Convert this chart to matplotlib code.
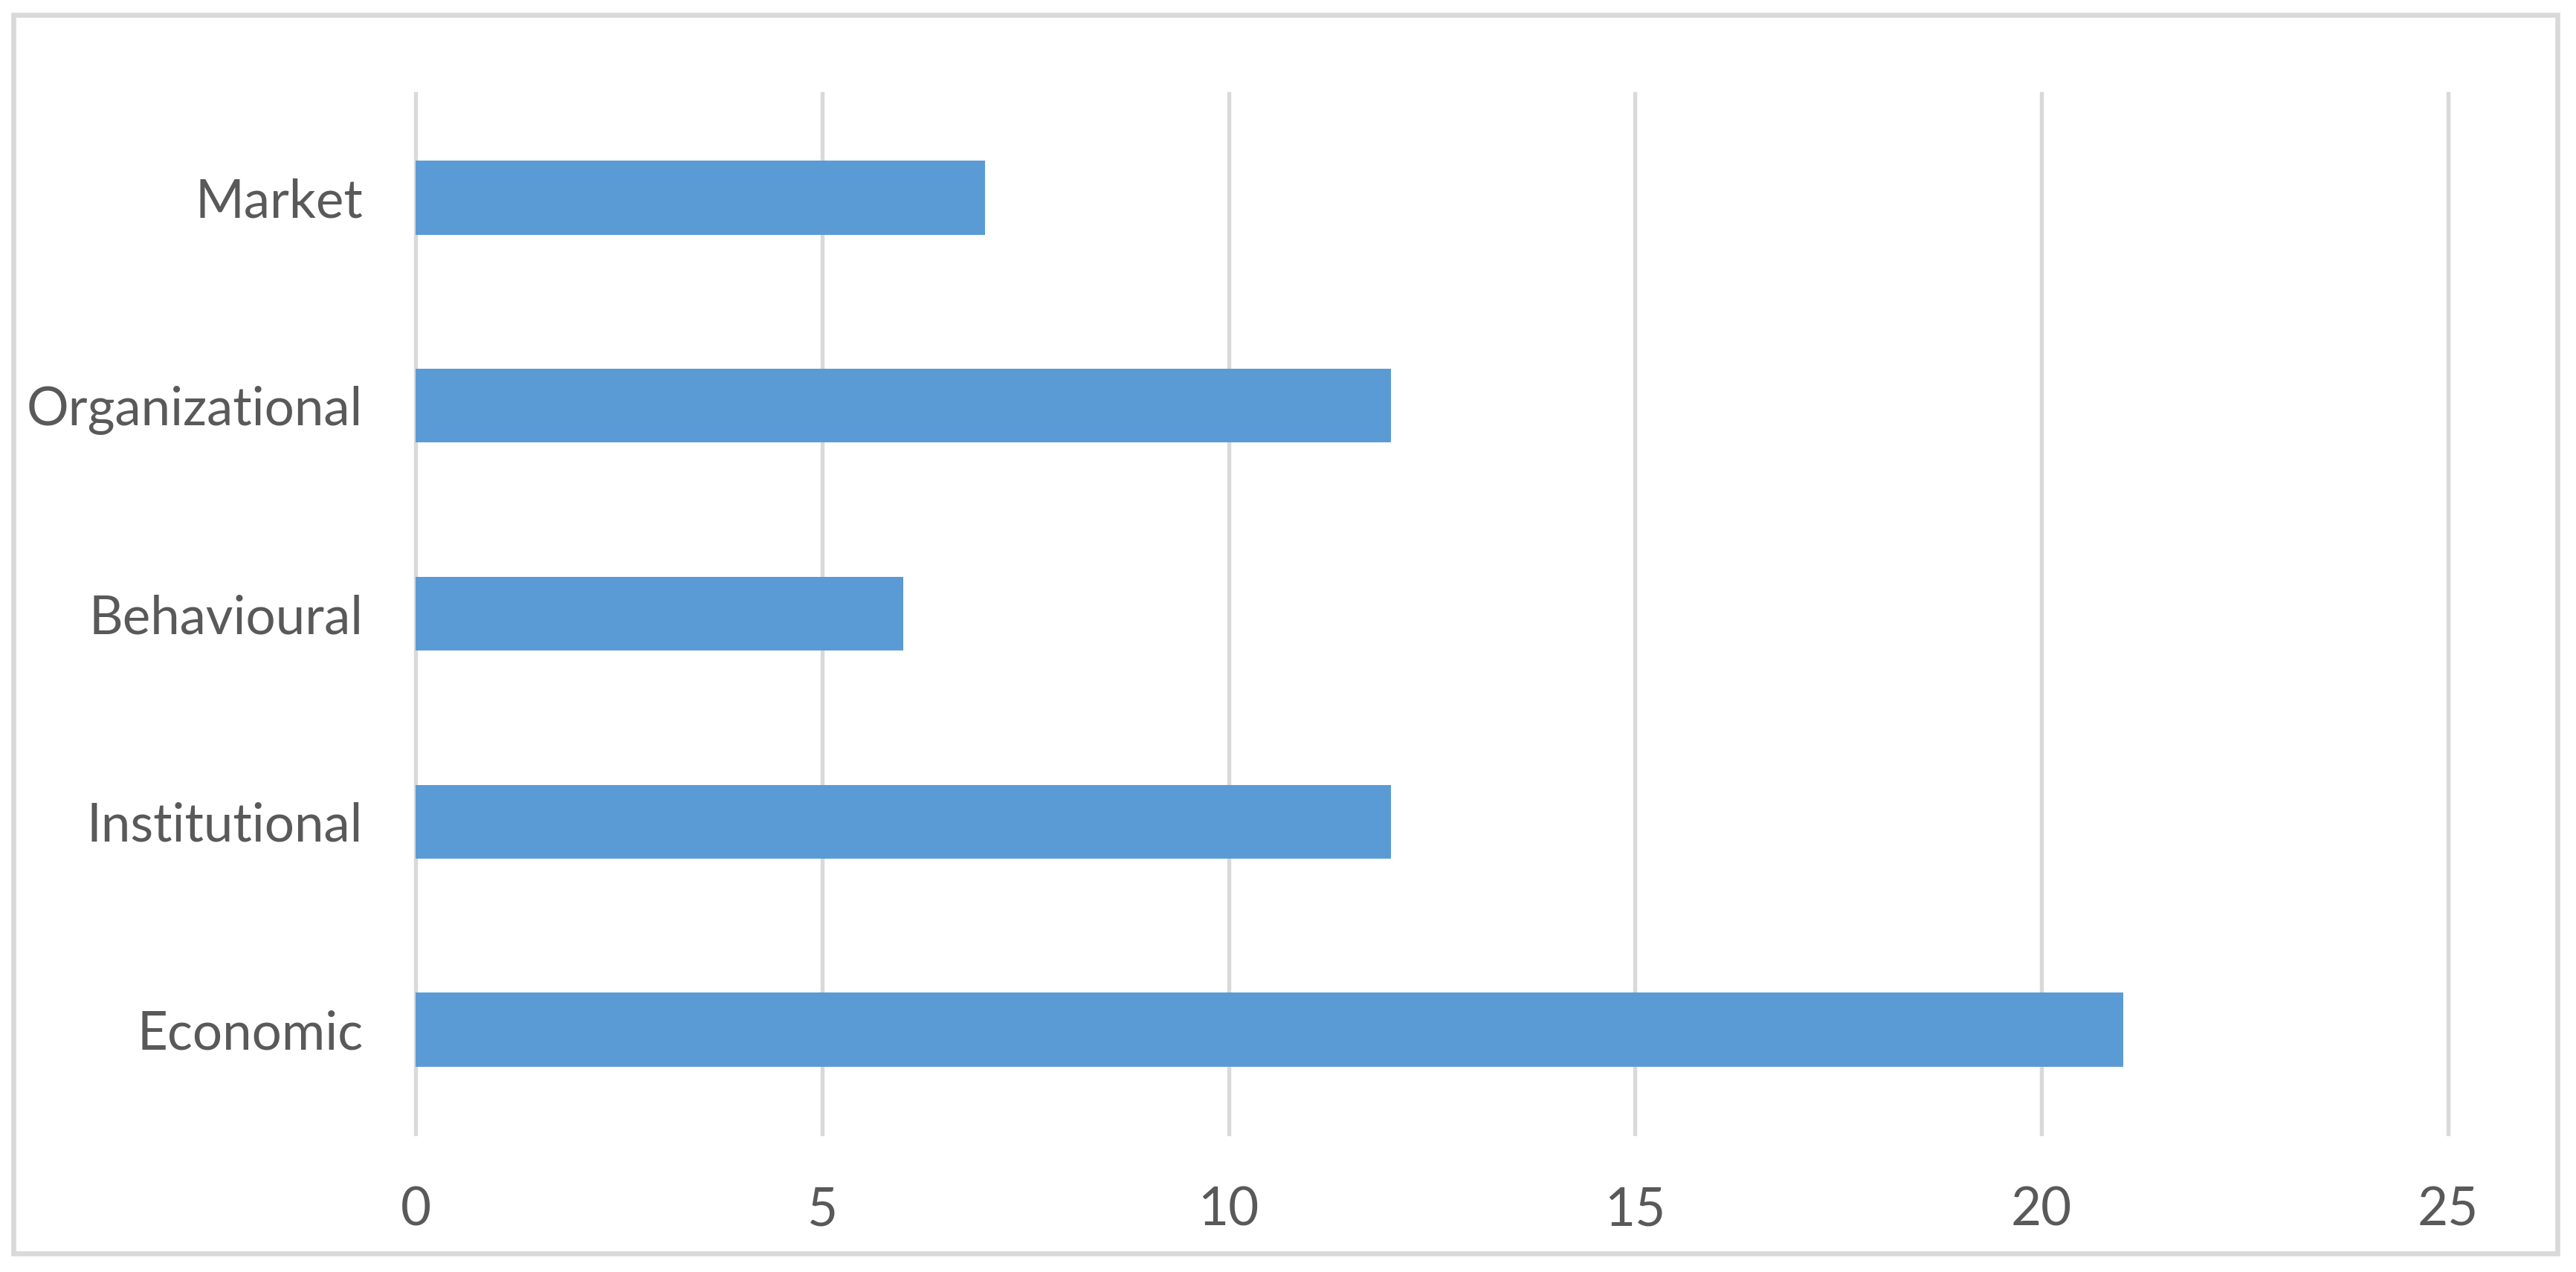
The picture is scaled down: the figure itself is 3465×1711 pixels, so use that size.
import matplotlib
matplotlib.use("Agg")
import matplotlib.pyplot as plt
from matplotlib.patches import Rectangle

categories = ["Economic", "Institutional", "Behavioural", "Organizational", "Market"]
values = [21, 12, 6, 12, 7]
xticks = [0, 5, 10, 15, 20, 25]

plt.rcParams['font.family'] = ['Lato', 'DejaVu Sans']

W, H = 3465, 1711
dpi = 300
fig = plt.figure(figsize=(W / dpi, H / dpi), dpi=dpi)
fig.patch.set_facecolor("white")

ax = fig.add_axes([559 / W, 1 - 1525 / H, (3293 - 559) / W, (1525 - 126) / H])
ypos = list(range(len(categories)))
ax.barh(ypos, values, height=0.355, color="#5B9BD5", zorder=3)

ax.set_xlim(0, 25)
ax.set_ylim(-0.5, len(categories) - 0.5)
ax.set_xticks(xticks)
ax.set_xticklabels([str(t) for t in xticks])
ax.set_yticks(ypos)
ax.set_yticklabels(categories)

for s in ax.spines.values():
    s.set_visible(False)
ax.tick_params(axis="both", length=0, labelsize=17, labelcolor="#595959")
ax.tick_params(axis="x", pad=17)
ax.tick_params(axis="y", pad=17)

ax.xaxis.grid(True, color="#D9D9D9", linewidth=1.3, zorder=0)
ax.yaxis.grid(False)
ax.set_axisbelow(True)
for gl in ax.xaxis.get_gridlines():
    gl.set_clip_on(False)

border = Rectangle((18 / W, 1 - 1686 / H), (3440 - 18) / W, (1686 - 20) / H,
                   transform=fig.transFigure, fill=False, edgecolor="#D9D9D9",
                   linewidth=1.6, zorder=10)
fig.patches.append(border)

fig.savefig("out.png", dpi=dpi, facecolor="white")
